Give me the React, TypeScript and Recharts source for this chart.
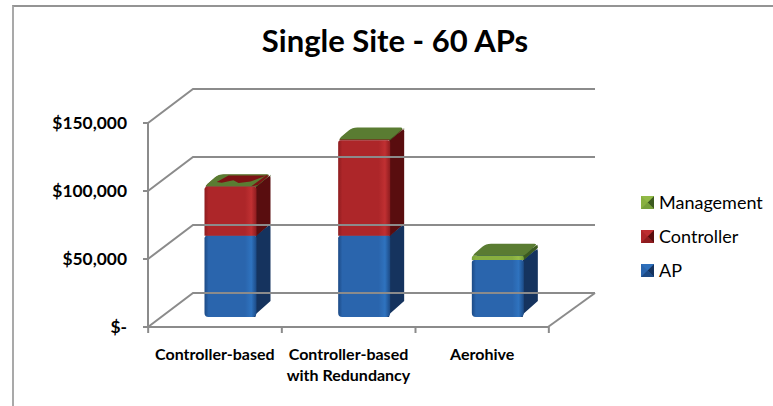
import React from "react";
import { Bar, BarChart, Legend, XAxis, YAxis } from "recharts";

const categories = ["Controller-based", "Controller-based with Redundancy", "Aerohive"];
const apCost = [59800, 59800, 42000];
const controllerCost = [36000, 70200, 0];
const managementCost = [300, 600, 3000];
const yTicks = [0, 50000, 100000, 150000];
const yLabels = ["$-", "$50,000", "$100,000", "$150,000"];

const chartData = categories.map((name, i) => ({
  name,
  ap: apCost[i],
  controller: controllerCost[i],
  management: managementCost[i]
}));

const FONT = "Lato, 'Open Sans', sans-serif";
const AXIS_GREY = "#8b8b8b";

// floor depth of the fake 3D box and the offset/depth of the columns in it
const WALL_DX = 45;
const WALL_DY = 34;
const WALL_RIGHT = 595;
const BAND = 400 / 3;
const BAR_OX = 15.5;
const BAR_OY = 10;
const DEPTH_X = 14;
const DEPTH_Y = 12;

type Tone = { id: string; edge: string; main: string; shine: string; side: string; top: string };

const AP_TONE: Tone = { id: "ap", edge: "#1c4a85", main: "#2a65ad", shine: "#2f73bf", side: "#15335e", top: "#1f4f8f" };
const CONTROLLER_TONE: Tone = { id: "controller", edge: "#8e1c1f", main: "#ad2629", shine: "#c03032", side: "#590d0f", top: "#7c1214" };
const MANAGEMENT_TONE: Tone = { id: "management", edge: "#76a03a", main: "#88b040", shine: "#95bd48", side: "#3c5a20", top: "#5a7c32" };
const legendTones = [MANAGEMENT_TONE, CONTROLLER_TONE, AP_TONE];
const legendNames = ["Management", "Controller", "AP"];

function Block(props: any) {
  const { x, y, width: w, height: h, tone, isBase, index } = props;
  if (!h || h <= 0) return null;
  const left = x + BAR_OX;
  const top = y - BAR_OY;
  const bottom = top + h;
  const r = isBase ? 4 : 0;
  const t = Math.min(2.5, h / 2);
  const pt = (u: number, v: number) => `${left + u * w + v * DEPTH_X} ${top - v * DEPTH_Y}`;
  const front = `M${left + t} ${top} H${left + w - t} Q${left + w} ${top} ${left + w} ${top + t}
    V${bottom - r} Q${left + w} ${bottom} ${left + w - r} ${bottom} H${left + r} Q${left} ${bottom} ${left} ${bottom - r}
    V${top + t} Q${left} ${top} ${left + t} ${top} Z`;
  // the side follows the lid edge so no white sliver opens between them
  const side = `M${left + w - 1} ${top} L${pt(1, 0.75)} L${left + w + DEPTH_X - 0.5} ${top - DEPTH_Y + 1}
    L${left + w + DEPTH_X} ${top - DEPTH_Y + 3} V${bottom - DEPTH_Y - r}
    L${left + w - r} ${bottom} L${left + w - 1} ${bottom} Z`;
  const lid = `M${pt(0.02, 0)} L${pt(0.98, 0)} Q${pt(1, 0)} ${pt(1, 0.2)} L${pt(1, 0.75)} Q${pt(1, 1)} ${pt(0.93, 1)}
    L${pt(0.1, 1)} Q${pt(0, 1)} ${pt(0, 0.75)} L${pt(0, 0.2)} Z`;
  const flat = h < 1;
  // first column: management is so thin that the controller top shows through it
  const torn = tone.id === "management" && flat && index === 0;
  return (
    <g>
      <path d={side} fill={tone.side} />
      {!flat && <path d={front} fill={`url(#front-${tone.id})`} />}
      <path d={lid} fill={tone.top} />
      {torn && (
        <g fill={CONTROLLER_TONE.top}>
          <polygon points={[pt(0.22, 0.9), pt(0.95, 0.9), pt(0.78, 0.4), pt(0.58, 0.28), pt(0.42, 0.5), pt(0.25, 0.3), pt(0.14, 0.35)].join(" ")} />
          <polygon points={[pt(0.9, 0), pt(1, 0.1), pt(1, 0.85), pt(0.94, 0.95)].join(" ")} />
        </g>
      )}
    </g>
  );
}

function WallTick(props: any) {
  const { x, y, payload } = props;
  const label = yLabels[yTicks.indexOf(payload.value)];
  const backY = y - WALL_DY;
  return (
    <g>
      <polyline
        points={`${x},${y} ${x + WALL_DX},${backY} ${WALL_RIGHT},${backY}`}
        fill="none"
        stroke={AXIS_GREY}
        strokeWidth={2}
      />
      {payload.value === 0 && (
        <line x1={x + 400} y1={y} x2={WALL_RIGHT} y2={backY} stroke={AXIS_GREY} strokeWidth={2} />
      )}
      <line x1={x - 5} y1={y} x2={x} y2={y} stroke={AXIS_GREY} strokeWidth={2} />
      <text x={x - 21} y={y + 6} textAnchor="end" fontFamily={FONT} fontWeight={700} fontSize={17.4} fill="#000">
        {label}
      </text>
    </g>
  );
}

function CategoryTick(props: any) {
  const { x, y, payload, index } = props;
  const lines = String(payload.value).split(/ (?=with)/);
  return (
    <g>
      <line x1={x - BAND / 2} y1={y} x2={x - BAND / 2} y2={y + 6} stroke={AXIS_GREY} strokeWidth={2} />
      {index === categories.length - 1 && (
        <line x1={x + BAND / 2} y1={y} x2={x + BAND / 2} y2={y + 6} stroke={AXIS_GREY} strokeWidth={2} />
      )}
      <text textAnchor="middle" fontFamily={FONT} fontWeight={700} fontSize={16} fill="#000">
        {lines.map((line, i) => (
          <tspan key={line} x={x} y={y + 33 + i * 21}>
            {line}
          </tspan>
        ))}
      </text>
    </g>
  );
}

function LegendBlock() {
  return (
    <div style={{ fontFamily: FONT, fontSize: 18, color: "#000" }}>
      {legendTones.map((tone, i) => (
        <div key={tone.id} style={{ display: "flex", alignItems: "center", height: 34 }}>
          <svg width={13} height={13} style={{ marginRight: 5 }}>
            <rect width={13} height={13} fill={tone.main} />
            <polygon points="13,0 13,13 6.5,6.5" fill={tone.side} />
            <polygon points="0,13 13,13 6.5,6.5" fill={tone.edge} />
            <polygon points="0,0 13,0 6.5,6.5" fill={tone.shine} opacity={0.8} />
          </svg>
          <span>{legendNames[i]}</span>
        </div>
      ))}
    </div>
  );
}

function frontGradient(tone: Tone) {
  return (
    <linearGradient key={tone.id} id={`front-${tone.id}`} x1="0" y1="0" x2="1" y2="0">
      <stop offset="0%" stopColor={tone.edge} />
      <stop offset="8%" stopColor={tone.main} />
      <stop offset="78%" stopColor={tone.main} />
      <stop offset="90%" stopColor={tone.shine} />
      <stop offset="100%" stopColor={tone.edge} />
    </linearGradient>
  );
}

export default function App() {
  return (
    <div style={{ position: "absolute", left: 0, top: 0, width: 773, height: 406, overflow: "hidden", background: "#fff" }}>
      <div
        style={{
          position: "absolute",
          left: 12,
          top: 5,
          width: 773,
          height: 420,
          borderLeft: "2px solid #a9a9a9",
          borderTop: "2px solid #949494"
        }}
      />
      <div
        style={{
          position: "absolute",
          left: 0,
          width: 790,
          top: 20,
          textAlign: "center",
          fontFamily: FONT,
          fontWeight: 700,
          fontSize: 31,
          lineHeight: "40px",
          color: "#000"
        }}
      >
        Single Site - 60 APs
      </div>
      <BarChart
        width={773}
        height={406}
        data={chartData}
        margin={{ top: 123, right: 92, bottom: 0, left: 0 }}
        barSize={52}
        style={{ position: "absolute", left: 0, top: 0 }}
      >
        <defs>{legendTones.map(frontGradient)}</defs>
        <YAxis
          width={148}
          domain={[0, 150000]}
          ticks={yTicks}
          tick={WallTick}
          tickLine={false}
          tickSize={0}
          tickMargin={0}
          axisLine={{ stroke: AXIS_GREY, strokeWidth: 2 }}
        />
        <XAxis
          dataKey="name"
          height={79}
          interval={0}
          tick={CategoryTick}
          tickLine={false}
          tickSize={0}
          tickMargin={0}
          axisLine={{ stroke: AXIS_GREY, strokeWidth: 2 }}
        />
        <Legend
          content={LegendBlock}
          layout="vertical"
          align="right"
          verticalAlign="middle"
          wrapperStyle={{ left: 641, top: 185, width: 132, height: 102 }}
        />
        <Bar dataKey="ap" name="AP" stackId="cost" isAnimationActive={false} shape={(p: any) => <Block {...p} tone={AP_TONE} isBase />} />
        <Bar dataKey="controller" name="Controller" stackId="cost" isAnimationActive={false} shape={(p: any) => <Block {...p} tone={CONTROLLER_TONE} />} />
        <Bar dataKey="management" name="Management" stackId="cost" isAnimationActive={false} shape={(p: any) => <Block {...p} tone={MANAGEMENT_TONE} />} />
      </BarChart>
    </div>
  );
}
